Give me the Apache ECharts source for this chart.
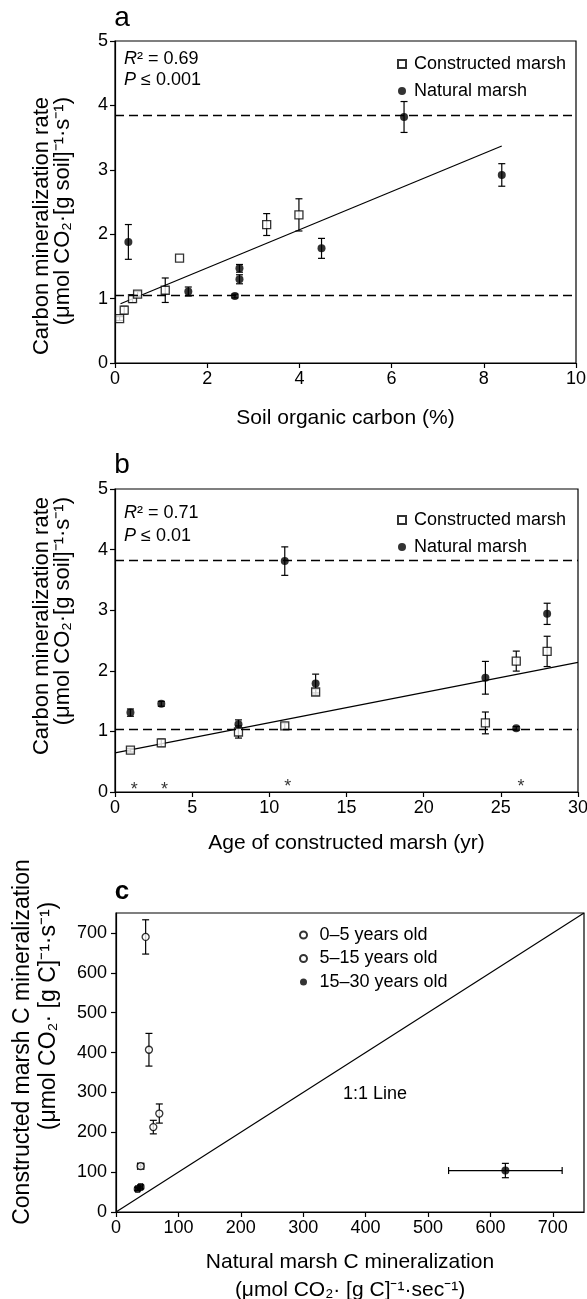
<!DOCTYPE html>
<html>

<head>
    <meta charset="UTF-8" />
    <title>Carbon mineralization</title>
    <script src="https://cdn.jsdelivr.net/npm/echarts@6.0.0/dist/echarts.min.js"></script>
    <style>
        html, body { margin: 0; padding: 0; background: #fff; }
        #main { width: 587px; height: 1299px; }
    </style>
</head>

<body>
    <div id="main"></div>
    <script>
    var FONT = '"Liberation Sans", Arial, Helvetica, sans-serif';

    // panel a: soil organic carbon (%) vs mineralization rate
    var aConsX = [0.1, 0.2, 0.38, 0.49, 1.09, 1.4, 3.29, 3.99];
    var aConsY = [0.69, 0.82, 1.0, 1.07, 1.13, 1.63, 2.15, 2.30];
    var aConsErr = [0.03, 0.06, 0.06, 0.04, 0.19, 0, 0.17, 0.25];
    var aNatX = [0.29, 1.59, 2.6, 2.7, 2.7, 4.48, 6.27, 8.39];
    var aNatY = [1.88, 1.11, 1.04, 1.47, 1.30, 1.78, 3.82, 2.92];
    var aNatErr = [0.27, 0.07, 0.03, 0.06, 0.07, 0.155, 0.24, 0.175];
    var aFitX = [0.12, 8.39];
    var aFitY = [0.92, 3.37];
    var aRefLines = [3.84, 1.05];

    // panel b: age of constructed marsh (yr)
    var bAge = [1, 3, 8, 11, 13, 24, 26, 28];
    var bConsY = [0.69, 0.81, 0.99, 1.09, 1.65, 1.14, 2.16, 2.32];
    var bConsErr = [0.03, 0.06, 0.1, 0.05, 0.05, 0.18, 0.165, 0.25];
    var bNatY = [1.31, 1.455, 1.12, 3.81, 1.79, 1.885, 1.05, 2.94];
    var bNatErr = [0.06, 0.04, 0.07, 0.235, 0.155, 0.27, 0.03, 0.175];
    var bFitX = [0, 30];
    var bFitY = [0.645, 2.14];
    var bRefLines = [3.83, 1.04];
    var bStarX = [1.25, 3.2, 11.2, 26.3];
    var bStarY = [0.15, 0.15, 0.2, 0.2];

    // panel c: natural vs constructed C mineralization
    var c05X = [47.5, 52.8];
    var c05Y = [690, 407];
    var c05YErr = [43, 41];
    var c05XErr = [0, 0];
    var c515X = [39.5, 59.8, 69.4];
    var c515Y = [115, 213, 247];
    var c515YErr = [7, 17, 24];
    var c515XErr = [5, 0, 0];
    var c1530X = [34.7, 39.5, 624];
    var c1530Y = [58, 63, 104];
    var c1530YErr = [4, 5, 18];
    var c1530XErr = [3, 3, 91];
    var cTicks = [0, 100, 200, 300, 400, 500, 600, 700];
    var cOneToOne = [0, 750];

    function pts(xs, ys) {
        return xs.map(function(x, i) { return [x, ys[i]]; });
    }

    function bars(xs, ys, ey, ex) {
        return xs.map(function(x, i) { return [x, ys[i], ey[i], ex ? ex[i] : 0]; });
    }

    // vertical / horizontal error bars with caps
    function renderBars(params, api) {
        var x = api.value(0), y = api.value(1), ey = api.value(2), ex = api.value(3);
        var cap = 3.5;
        var st = { stroke: '#000', lineWidth: 1.2 };
        var kids = [];
        if (ey > 0) {
            var hi = api.coord([x, y + ey]), lo = api.coord([x, y - ey]);
            kids.push({ type: 'line', shape: { x1: hi[0], y1: hi[1], x2: lo[0], y2: lo[1] }, style: st });
            kids.push({ type: 'line', shape: { x1: hi[0] - cap, y1: hi[1], x2: hi[0] + cap, y2: hi[1] }, style: st });
            kids.push({ type: 'line', shape: { x1: lo[0] - cap, y1: lo[1], x2: lo[0] + cap, y2: lo[1] }, style: st });
        }
        if (ex > 0) {
            var l = api.coord([x - ex, y]), r = api.coord([x + ex, y]);
            kids.push({ type: 'line', shape: { x1: l[0], y1: l[1], x2: r[0], y2: r[1] }, style: st });
            kids.push({ type: 'line', shape: { x1: l[0], y1: l[1] - cap, x2: l[0], y2: l[1] + cap }, style: st });
            kids.push({ type: 'line', shape: { x1: r[0], y1: r[1] - cap, x2: r[0], y2: r[1] + cap }, style: st });
        }
        return { type: 'group', children: kids };
    }

    function errSeries(idx, data) {
        return {
            type: 'custom', xAxisIndex: idx, yAxisIndex: idx, z: 2,
            renderItem: renderBars, data: data, encode: { x: 0, y: 1 }, silent: true
        };
    }

    var openStyle = { color: '#fff', borderColor: '#000', borderWidth: 1.3 };
    var fillStyle = { color: '#000', borderColor: '#000', borderWidth: 0 };

    function dots(idx, name, data, symbol, size, style) {
        return {
            type: 'scatter', name: name, xAxisIndex: idx, yAxisIndex: idx, z: 3,
            symbol: symbol, symbolSize: size, itemStyle: style, data: data
        };
    }

    function fitLine(idx, data, refs) {
        var s = {
            type: 'line', xAxisIndex: idx, yAxisIndex: idx, data: data, showSymbol: false,
            symbol: 'none', lineStyle: { color: '#000', width: 1.2 }, z: 1, silent: true
        };
        if (refs) {
            s.markLine = {
                silent: true, symbol: ['none', 'none'], label: { show: false },
                lineStyle: { color: '#000', width: 1.3, type: [9, 5] },
                data: refs.map(function(v) { return { yAxis: v }; })
            };
        }
        return s;
    }

    function valueAxis(gi, min, max, interval, name, nameGap) {
        return {
            type: 'value', gridIndex: gi, min: min, max: max, interval: interval,
            name: name, nameLocation: 'middle', nameGap: nameGap,
            nameTextStyle: { fontFamily: FONT, fontSize: 21, color: '#000', lineHeight: 28 },
            axisLine: { show: true, onZero: false, lineStyle: { color: '#000', width: 1.2 } },
            axisTick: { show: true, inside: false, length: 5, lineStyle: { color: '#000', width: 1.2 } },
            axisLabel: { fontFamily: FONT, fontSize: 18, color: '#000', margin: 7 },
            splitLine: { show: false }
        };
    }

    var xc = valueAxis(2, 0, 750, 100, 'Natural marsh C mineralization\n(μmol CO₂· [g C]⁻¹·sec⁻¹)', 36);
    xc.axisTick.customValues = cTicks;
    xc.axisLabel.customValues = cTicks;
    var yc = valueAxis(2, 0, 750, 100, '', 0);
    yc.axisTick.customValues = cTicks;
    yc.axisLabel.customValues = cTicks;
    yc.axisLabel.margin = 9;

    function txt(x, y, text, size, align, extra) {
        var el = {
            type: 'text', x: x, y: y, silent: true,
            style: {
                text: text, fontFamily: FONT, fontSize: size, fill: '#000',
                align: align || 'left', verticalAlign: 'middle',
                rich: { it: { fontStyle: 'italic', fontFamily: FONT, fontSize: size } }
            }
        };
        if (extra) {
            for (var k in extra) el[k] = extra[k];
        }
        return el;
    }
    var ROT = { rotation: Math.PI / 2 };

    var legendText = { fontFamily: FONT, fontSize: 18, color: '#000', padding: [0, 0, 0, 3] };

    var myChart = echarts.init(document.getElementById('main'), null, { renderer: 'canvas' });
    myChart.setOption({
        animation: false,
        backgroundColor: '#fff',
        grid: [
            { left: 115, top: 41, width: 461, height: 322, show: true, borderColor: '#000', borderWidth: 1.2, outerBoundsMode: 'none' },
            { left: 115, top: 489, width: 463, height: 303, show: true, borderColor: '#000', borderWidth: 1.2, outerBoundsMode: 'none' },
            { left: 116, top: 913, width: 468, height: 299, show: true, borderColor: '#000', borderWidth: 1.2, outerBoundsMode: 'none' }
        ],
        xAxis: [
            valueAxis(0, 0, 10, 2, 'Soil organic carbon (%)', 41),
            valueAxis(1, 0, 30, 5, 'Age of constructed marsh (yr)', 37),
            xc
        ],
        yAxis: [
            valueAxis(0, 0, 5, 1, '', 0),
            valueAxis(1, 0, 5, 1, '', 0),
            yc
        ],
        legend: [{
            data: ['Constructed marsh', 'Natural marsh'], orient: 'vertical', left: 392, top: 50,
            itemWidth: 8, itemHeight: 8, itemGap: 9, selectedMode: false, textStyle: legendText
        }, {
            data: ['Constructed marsh', 'Natural marsh'], orient: 'vertical', left: 392, top: 506,
            itemWidth: 8, itemHeight: 8, itemGap: 9, selectedMode: false, textStyle: legendText
        }, {
            data: ['0–5 years old', '5–15 years old', '15–30 years old'], orient: 'vertical', left: 294, top: 921,
            itemWidth: 14, itemHeight: 7, itemGap: 5.5, selectedMode: false,
            textStyle: { fontFamily: FONT, fontSize: 18, color: '#000', padding: [0, 0, 0, 4] }
        }],
        graphic: [
            txt(122, 18, 'a', 28, 'center'),
            txt(122, 465, 'b', 28, 'center'),
            { type: 'text', x: 122, y: 892, silent: true, style: { text: 'c', fontFamily: FONT, fontSize: 26, fontWeight: 'bold', fill: '#000', align: 'center', verticalAlign: 'middle' } },
            txt(42, 97, 'Carbon mineralization rate', 22, 'right', ROT),
            txt(63, 97, '(μmol CO₂·[g soil]⁻¹·s⁻¹)', 22, 'right', ROT),
            txt(42, 497, 'Carbon mineralization rate', 22, 'right', ROT),
            txt(63, 497, '(μmol CO₂·[g soil]⁻¹·s⁻¹)', 22, 'right', ROT),
            txt(23, 1042, 'Constructed marsh C mineralization', 23, 'center', ROT),
            txt(49, 1016, '(μmol CO₂· [g C]⁻¹·s⁻¹)', 23, 'center', ROT),
            txt(124, 59, '{it|R}² = 0.69', 18),
            txt(124, 80, '{it|P} ≤ 0.001', 18),
            txt(124, 513, '{it|R}² = 0.71', 18),
            txt(124, 536, '{it|P} ≤ 0.01', 18),
            txt(375, 1094, '1:1 Line', 18, 'center')
        ],
        series: [
            // a
            fitLine(0, pts(aFitX, aFitY), aRefLines),
            errSeries(0, bars(aConsX, aConsY, aConsErr)),
            errSeries(0, bars(aNatX, aNatY, aNatErr)),
            dots(0, 'Constructed marsh', pts(aConsX, aConsY), 'rect', 8, openStyle),
            dots(0, 'Natural marsh', pts(aNatX, aNatY), 'circle', 8, fillStyle),
            // b
            fitLine(1, pts(bFitX, bFitY), bRefLines),
            errSeries(1, bars(bAge, bConsY, bConsErr)),
            errSeries(1, bars(bAge, bNatY, bNatErr)),
            dots(1, 'Constructed marsh', pts(bAge, bConsY), 'rect', 8, openStyle),
            dots(1, 'Natural marsh', pts(bAge, bNatY), 'circle', 8, fillStyle),
            {
                type: 'scatter', xAxisIndex: 1, yAxisIndex: 1, symbolSize: 1, silent: true,
                itemStyle: { color: 'rgba(0,0,0,0)' }, data: pts(bStarX, bStarY),
                label: { show: true, position: 'inside', offset: [0, 7], formatter: '*', fontFamily: FONT, fontSize: 18, color: '#000' }
            },
            // c
            fitLine(2, pts(cOneToOne, cOneToOne)),
            errSeries(2, bars(c05X, c05Y, c05YErr, c05XErr)),
            errSeries(2, bars(c515X, c515Y, c515YErr, c515XErr)),
            errSeries(2, bars(c1530X, c1530Y, c1530YErr, c1530XErr)),
            dots(2, '0–5 years old', pts(c05X, c05Y), 'circle', 7, openStyle),
            dots(2, '5–15 years old', pts(c515X, c515Y), 'circle', 7, openStyle),
            dots(2, '15–30 years old', pts(c1530X, c1530Y), 'circle', 8, fillStyle)
        ]
    });
    </script>
</body>

</html>
